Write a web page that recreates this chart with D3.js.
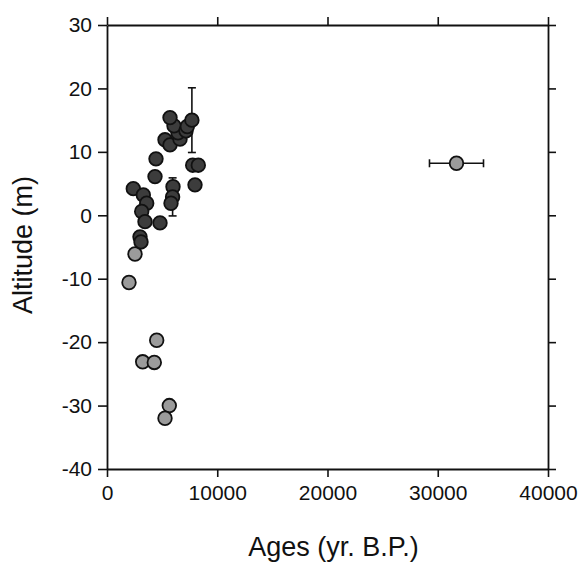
<!DOCTYPE html>
<html>
<head>
<meta charset="utf-8">
<script src="https://cdn.jsdelivr.net/npm/d3@7"></script>
<style>
    body { margin: 0; background: #fff; }
    svg text { font-family: "Liberation Sans", Arial, sans-serif; fill: #111; }
</style>
</head>
<body>
<svg id="chart" width="580" height="565"></svg>
<script>
// ages (yr B.P.) and altitude (m)
// darker samples (upper group)
let dark_age = [2385, 3293, 3601, 3147, 3447, 4807, 2993, 3084, 4444, 4354, 5986, 5950, 5805,
    5261, 5714, 6621, 6440, 6077, 5714, 7166, 7283, 7700, 7773, 8281, 7982];
let dark_alt = [4.2, 3.2, 1.9, 0.6, -1.0, -1.2, -3.4, -4.2, 8.9, 6.1, 4.5, 2.9, 1.9,
    11.9, 11.1, 12.0, 13.0, 14.1, 15.4, 13.3, 14.0, 15.0, 7.9, 7.9, 4.8];
// lighter samples
let light_age = [2540, 1995, 4508, 3238, 4290, 5651, 5261, 31700];
let light_alt = [-6.1, -10.6, -19.7, -23.1, -23.2, -30.0, -32.0, 8.2];
// error bars: [age, altitude, age error, altitude error]
let err_bars = [
    [7700, 15.0, 0, 5.1],
    [5950, 2.9, 0, 3.0],
    [31700, 8.2, 2450, 0]
];
let x_ticks = [0, 10000, 20000, 30000, 40000];
let y_ticks = [30, 20, 10, 0, -10, -20, -30, -40];

const margin = {left: 107, top: 25, right: 32, bottom: 96};
const W = 580, H = 565;
const w = W - margin.left - margin.right;
const h = H - margin.top - margin.bottom;

let svg = d3.select('svg#chart');
let g = svg.append('g').attr('transform', 'translate(' + margin.left + ',' + margin.top + ')');

let x = d3.scaleLinear().domain([0, 40000]).range([0, w]);
let y = d3.scaleLinear().domain([-40, 30]).range([h, 0]);

// plain hyphen for negatives, like the original print
let fmt = d => String(d);

function style_axis(sel) {
    sel.select('.domain').attr('stroke', '#111').attr('stroke-width', 1.8);
    sel.selectAll('.tick line').attr('stroke', '#111').attr('stroke-width', 1.6);
    sel.selectAll('text').style('font-size', '21px');
}

g.append('g').attr('transform', 'translate(0,' + h + ')')
    .call(d3.axisBottom(x).tickValues(x_ticks).tickFormat(fmt).tickSize(8).tickPadding(8).tickSizeOuter(0))
    .call(style_axis);
g.append('g')
    .call(d3.axisTop(x).tickValues(x_ticks).tickFormat('').tickSize(8).tickSizeOuter(0))
    .call(style_axis);
g.append('g')
    .call(d3.axisLeft(y).tickValues(y_ticks).tickFormat(fmt).tickSize(9).tickPadding(6).tickSizeOuter(0))
    .call(style_axis);
g.append('g').attr('transform', 'translate(' + w + ',0)')
    .call(d3.axisRight(y).tickValues(y_ticks).tickFormat('').tickSize(8).tickSizeOuter(0))
    .call(style_axis);
g.selectAll('.domain').attr('fill', 'none');

// error bars
let eb = g.append('g').attr('stroke', '#111').attr('stroke-width', 1.6);
err_bars.forEach(d => {
    if (d[3] > 0) {
        let x0 = x(d[0]);
        eb.append('line').attr('x1', x0).attr('x2', x0).attr('y1', y(d[1] + d[3])).attr('y2', y(d[1] - d[3]));
        [d[1] + d[3], d[1] - d[3]].forEach(v => {
            eb.append('line').attr('x1', x0 - 4).attr('x2', x0 + 4).attr('y1', y(v)).attr('y2', y(v));
        });
    }
    if (d[2] > 0) {
        let y0 = y(d[1]);
        eb.append('line').attr('x1', x(d[0] - d[2])).attr('x2', x(d[0] + d[2])).attr('y1', y0).attr('y2', y0);
        [d[0] - d[2], d[0] + d[2]].forEach(v => {
            eb.append('line').attr('x1', x(v)).attr('x2', x(v)).attr('y1', y0 - 4).attr('y2', y0 + 4);
        });
    }
});

let light = light_age.map((a, i) => ({age: a, alt: light_alt[i]}));
let dark = dark_age.map((a, i) => ({age: a, alt: dark_alt[i]}));

g.append('g').selectAll('circle')
    .data(light).enter().append('circle')
    .attr('cx', d => x(d.age)).attr('cy', d => y(d.alt)).attr('r', 6.8)
    .attr('fill', '#9b9b9b').attr('stroke', '#111').attr('stroke-width', 1.8);
g.append('g').selectAll('circle')
    .data(dark).enter().append('circle')
    .attr('cx', d => x(d.age)).attr('cy', d => y(d.alt)).attr('r', 6.8)
    .attr('fill', '#3c3c3c').attr('stroke', '#111').attr('stroke-width', 1.8);

// axis titles
svg.append('text')
    .attr('x', margin.left + w / 2 + 6).attr('y', 556)
    .attr('text-anchor', 'middle').style('font-size', '27px')
    .text('Ages (yr. B.P.)');
svg.append('text')
    .attr('transform', 'translate(32,' + (margin.top + h / 2 - 2) + ') rotate(-90)')
    .attr('text-anchor', 'middle').style('font-size', '27px')
    .text('Altitude (m)');
</script>
</body>
</html>
